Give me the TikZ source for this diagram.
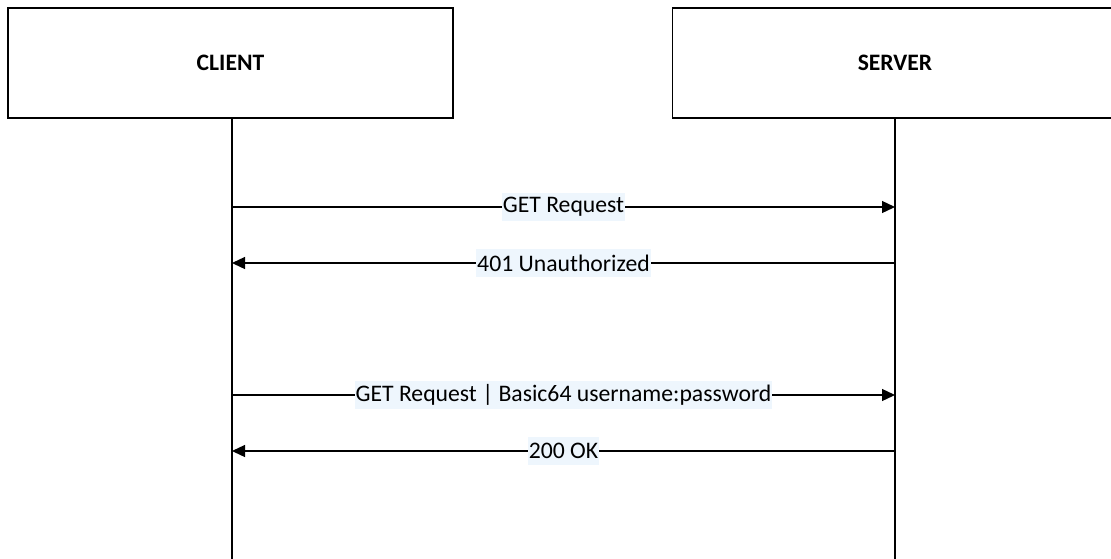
\documentclass[tikz,border=0pt]{standalone}
\usepackage{fontspec}
\setmainfont{Carlito}
\usetikzlibrary{arrows.meta}
\definecolor{lblbg}{HTML}{EEF6FD}
\tikzset{
  actor/.style={draw=black, line width=1.3pt, minimum width=445pt, minimum height=110pt, inner sep=0pt, font=\fontsize{23.6}{27}\selectfont\bfseries},
  life/.style={line width=1.5pt},
  msg/.style={line width=1.3pt, -{Triangle[length=13pt,width=12pt]}},
  lbl/.style={fill=lblbg, inner xsep=1pt, inner ysep=0pt, minimum height=28pt, font=\fontsize{23.7}{27}\selectfont}
}
\begin{document}
\begin{tikzpicture}[x=1pt,y=-1pt]
\useasboundingbox (0,0) rectangle (1111,558);
\clip (0,0) rectangle (1111,558);
\node[actor] (client) at (230.5,63) {CLIENT};
\node[actor] (server) at (895,63) {SERVER};
\coordinate (cend) at (232,560);
\coordinate (send) at (895,560);
\draw[life] (client.south -| cend) -- (cend);
\draw[life] (server.south -| send) -- (send);
\coordinate (c1) at (232,207); \coordinate (s1) at (895,207);
\coordinate (c2) at (232,263); \coordinate (s2) at (895,263);
\coordinate (c3) at (232,395); \coordinate (s3) at (895,395);
\coordinate (c4) at (232,451); \coordinate (s4) at (895,451);
\draw[msg] (c1) -- node[lbl] (l1) {GET Request} (s1);
\draw[msg] (s2) -- node[lbl] (l2) {401 Unauthorized} (c2);
\draw[msg] (c3) -- node[lbl] (l3) {GET Request | Basic64 username:password} (s3);
\draw[msg] (s4) -- node[lbl] (l4) {200 OK} (c4);
\end{tikzpicture}
\end{document}
